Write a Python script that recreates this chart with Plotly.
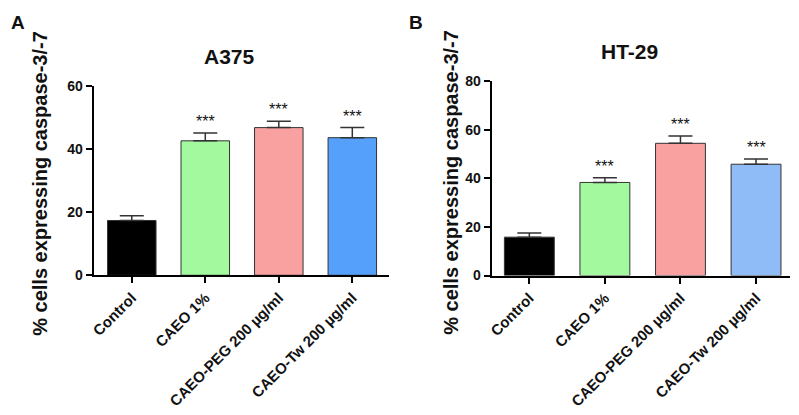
import plotly.graph_objects as go

categories = ["Control", "CAEO 1%", "CAEO-PEG 200 µg/ml", "CAEO-Tw 200 µg/ml"]
a375_values = [17.4, 42.7, 46.9, 43.7]
a375_errors = [1.5, 2.5, 2.0, 3.2]
ht29_values = [15.8, 38.3, 54.4, 45.8]
ht29_errors = [1.7, 1.9, 3.0, 2.1]
a375_colors = ["#000000", "#a2f99e", "#f9a0a0", "#55a0fb"]
ht29_colors = ["#000000", "#a2f99e", "#f9a0a0", "#8fbcf6"]
stars = ["", "***", "***", "***"]

W, H = 799, 415
FONT = "Arial, Liberation Sans, sans-serif"

fig = go.Figure()

def add_panel(values, errors, colors, xa, ya):
    fig.add_trace(go.Bar(
        x=categories, y=values, xaxis=xa, yaxis=ya,
        marker=dict(color=colors, line=dict(color="#333333", width=1)),
        width=0.66,
        error_y=dict(type="data", array=errors, arrayminus=[0]*len(errors),
                     symmetric=False, color="#333333", thickness=1.5, width=12),
        showlegend=False,
    ))
    for c, v, e, s in zip(categories, values, errors, stars):
        if s:
            fig.add_annotation(x=c, y=v + e, xref=xa, yref=ya, text=s,
                               showarrow=False, xanchor="center", yanchor="bottom",
                               yshift=1,
                               font=dict(family=FONT, size=16, color="#111111"))

add_panel(a375_values, a375_errors, a375_colors, "x", "y")
add_panel(ht29_values, ht29_errors, ht29_colors, "x2", "y2")

axis_common = dict(showline=True, linecolor="#000000", linewidth=2, ticks="outside",
                   ticklen=6, tickwidth=2, tickcolor="#000000", showgrid=False,
                   zeroline=False)
ytick_font = dict(family=FONT, size=14, color="#111111", weight="bold")
xtick_font = dict(family=FONT, size=15, color="#111111", weight="bold")

fig.update_layout(
    width=W, height=H, margin=dict(l=0, r=0, t=0, b=0),
    plot_bgcolor="white", paper_bgcolor="white", bargap=0.34,
    xaxis=dict(domain=[90/W, 387/W], anchor="y", range=[-0.52, 3.5],
               tickangle=-45, tickfont=xtick_font, **axis_common),
    yaxis=dict(domain=[(H-278)/H, (H-81.5)/H], anchor="x", range=[0, 60],
               tickvals=[0, 20, 40, 60], tickfont=ytick_font, **axis_common),
    xaxis2=dict(domain=[490/W, 790/W], anchor="y2", range=[-0.5, 3.45],
                tickangle=-45, tickfont=xtick_font, **axis_common),
    yaxis2=dict(domain=[(H-278.3)/H, (H-76)/H], anchor="x2", range=[0, 80],
                tickvals=[0, 20, 40, 60, 80], tickfont=ytick_font, **axis_common),
)

ytitle = "% cells expressing caspase-3/-7"
for x, y, txt in [(36, 182, ytitle), (449, 181, ytitle)]:
    fig.add_annotation(x=x/W, y=(H-y)/H, xref="paper", yref="paper", text=txt,
                       textangle=-90, showarrow=False, xanchor="center", yanchor="middle",
                       font=dict(family=FONT, size=20, color="#111111", weight="bold"))

for x, y, txt, size in [(227, 50, "A375", 21), (629, 45, "HT-29", 21),
                        (14, 15, "A", 19), (414, 15, "B", 19)]:
    fig.add_annotation(x=x/W, y=(H-y)/H, xref="paper", yref="paper", text=txt,
                       showarrow=False, xanchor="center", yanchor="middle",
                       font=dict(family=FONT, size=size, color="#111111", weight="bold"))

fig.write_html("out.html")
